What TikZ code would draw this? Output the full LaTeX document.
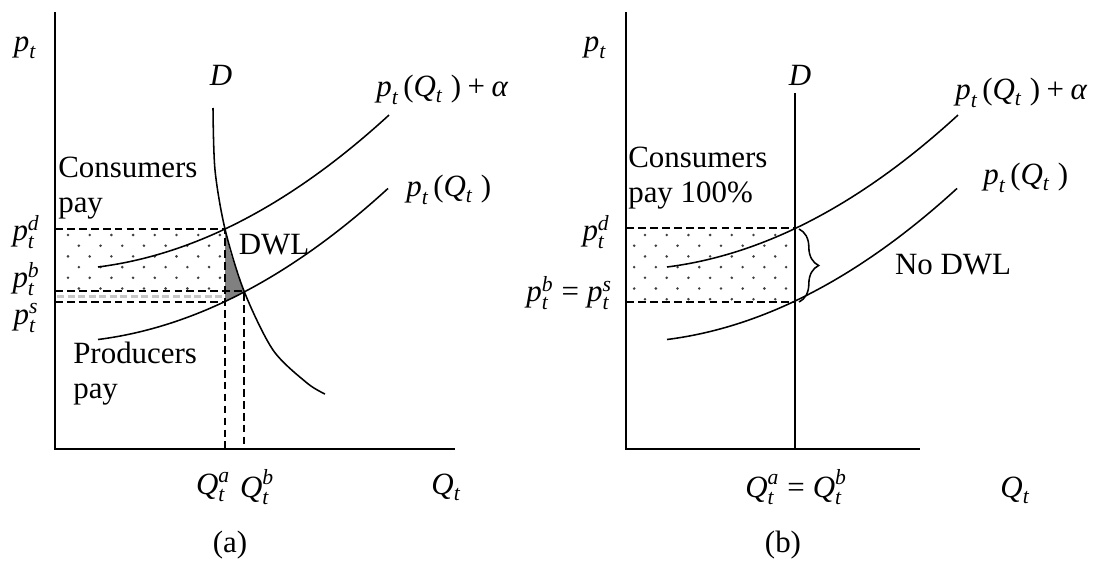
\documentclass[tikz,border=0pt]{standalone}
\usepackage{fontspec}
\setmainfont{Liberation Serif}
\usepackage{amsmath}
\usepackage{tikz}
\usetikzlibrary{decorations.pathreplacing}

\newcommand{\iv}[1]{\textit{#1}}
\newcommand{\priceof}[1]{$\iv{p}_{\iv{t}}\,\textup{(}\iv{Q}_{\iv{t}}\;\textup{)}#1$}

\tikzset{
  axisline/.style={line width=1.4pt},
  curve/.style={line width=1.1pt},
  guide/.style={line width=1.1pt, dash pattern=on 5.5pt off 3pt},
  dotmark/.style={fill=black!75},
  lbl/.style={inner sep=0pt, font=\fontsize{22}{25}\selectfont},
  txt/.style={lbl, align=left},
  declare function={supc(\q)=267-(0.036885*(\q-98))^2-0.1264*(\q-98);},
}

\begin{document}
\begin{tikzpicture}[x=0.025cm, y=-0.025cm]
\useasboundingbox (0,0) rectangle (1105,572);

% ---------------- (a) ad valorem wedge, demand elastic
\begin{scope}
  \clip (55,229) rectangle (225,291);
  \foreach \r in {0,...,6}
    \foreach \c in {0,...,8}
      \fill[dotmark] ({68+21.7*\c+10.85*mod(\r,2)}, {235+10.7*\r}) circle (1pt);
\end{scope}
\draw[line width=2.6pt, gray!45, dash pattern=on 5pt off 2.5pt] (57,296.5) -- (225,296.5);
% the triangle between the two quantities
\fill[black!50] (225,229) -- (225,302) -- (235,297) -- (244,291)
  -- (236,270) -- (230,252) -- cycle;

\draw[guide] (55,229) -- (225,229) -- (225,449);
\draw[guide] (55,291) -- (244,291) -- (244,449);
\draw[guide] (55,302) -- (225,302);

\draw[axisline] (55,12) -- (55,449) -- (455,449);
\draw[curve] plot[domain=98:389, samples=60] (\x, {supc(\x)});
\draw[curve] plot[domain=98:388, samples=60] (\x, {supc(\x)+72.5});
\draw[curve] plot[smooth] coordinates {(213,108) (215,170) (225,229)
  (244,291) (273,350) (307,383) (325,394)};

\node[lbl] (pA) at (25,48) {$\iv{p}_{\iv{t}}$};
\node[lbl] (pdA) at (26,232) {$\iv{p}_{\iv{t}}^{\iv{d}}$};
\node[lbl] (pbA) at (26,279) {$\iv{p}_{\iv{t}}^{\iv{b}}$};
\node[lbl] (psA) at (26,318) {$\iv{p}_{\iv{t}}^{\iv{s}}$};
\node[lbl] (dA) at (221,75) {$\iv{D}$};
\node[lbl, anchor=west] (taxA) at (376,90) {\priceof{\mathbin{\textup{+}}\iv{α}}};
\node[lbl, anchor=west] (supA) at (406,190) {\priceof{}};
\node[txt, anchor=north west] (consA) at (58,157) {Consumers\\pay};
\node[txt, anchor=north west] (prodA) at (73,342) {Producers\\pay};
\node[lbl] (dwlA) at (274,245) {DWL};
\node[lbl] (qaA) at (213,487) {$\iv{Q}_{\iv{t}}^{\iv{a}}$};
\node[lbl] (qbA) at (257,487) {$\iv{Q}_{\iv{t}}^{\iv{b}}$};
\node[lbl] (qA) at (446,487) {$\iv{Q}_{\iv{t}}$};
\node[lbl] (capA) at (230,545) {(a)};

% ---------------- (b) demand inelastic, no wedge
\begin{scope}
  \clip (626,228) rectangle (795,302);
  \foreach \r in {0,...,6}
    \foreach \c in {0,...,8}
      \fill[dotmark] ({645+21.7*\c-10.85*mod(\r,2)}, {235+10.7*\r}) circle (1pt);
\end{scope}
\draw[guide] (626,228) -- (795,228);
\draw[guide] (626,302) -- (795,302);

\draw[axisline] (626,12) -- (626,449) -- (920,449);
\draw[curve] (795,93) -- (795,449);
\draw[curve] plot[domain=667:958, samples=60] (\x, {supc(\x-569)});
\draw[curve] plot[domain=667:957, samples=60] (\x, {supc(\x-569)+72.5});
\draw[curve, decorate, decoration={brace, amplitude=14pt}] (799,229) -- (799,302);

\node[lbl] (pB) at (595,48) {$\iv{p}_{\iv{t}}$};
\node[lbl] (pdB) at (596,232) {$\iv{p}_{\iv{t}}^{\iv{d}}$};
\node[lbl, anchor=east] (pbsB) at (612,293)
  {$\iv{p}_{\iv{t}}^{\iv{b}}\mathrel{\textup{=}}\iv{p}_{\iv{t}}^{\iv{s}}$};
\node[lbl] (dB) at (800,75) {$\iv{D}$};
\node[lbl, anchor=west] (taxB) at (955,93) {\priceof{\mathbin{\textup{+}}\iv{α}}};
\node[lbl, anchor=west] (supB) at (983,178) {\priceof{}};
\node[txt, anchor=north west] (consB) at (628,147) {Consumers\\pay 100\%};
\node[lbl] (dwlB) at (953,265) {No DWL};
\node[lbl] (qB) at (796,487)
  {$\iv{Q}_{\iv{t}}^{\iv{a}}\mathrel{\textup{=}}\iv{Q}_{\iv{t}}^{\iv{b}}$};
\node[lbl] (qaxB) at (1015,490) {$\iv{Q}_{\iv{t}}$};
\node[lbl] (capB) at (783,545) {(b)};
\end{tikzpicture}
\end{document}
